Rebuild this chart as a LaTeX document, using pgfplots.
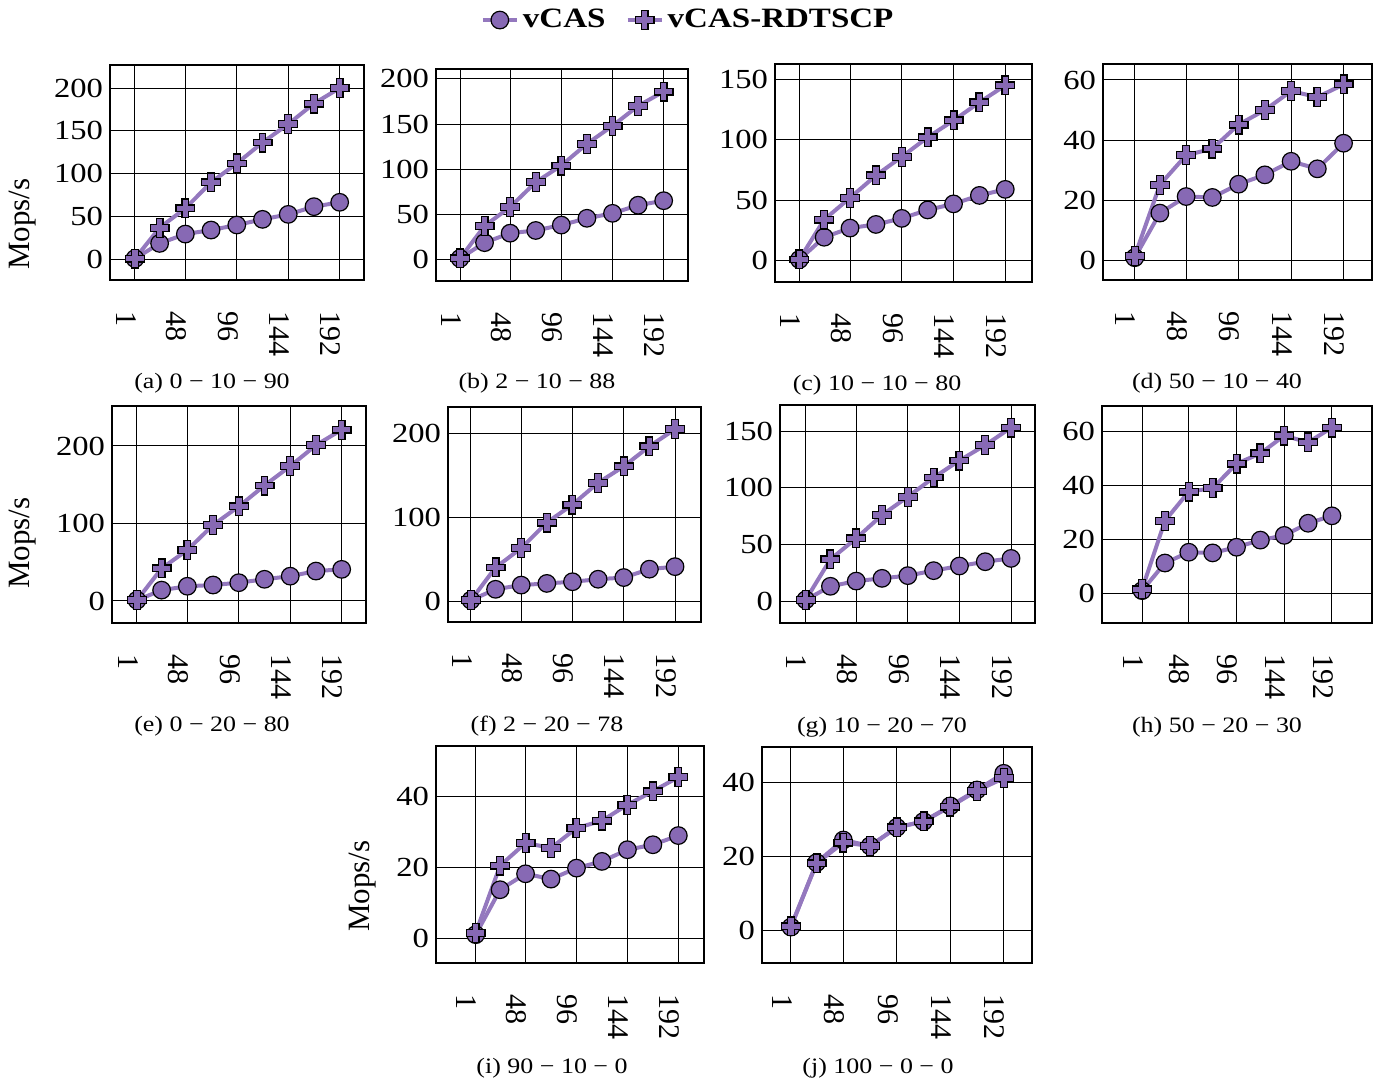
\documentclass[border=0pt]{standalone}
\usepackage{fontspec}
\setmainfont{Liberation Serif}
\newfontfamily\widefont{Liberation Serif}[FakeStretch=1.18]
\usepackage{pgfplots}
\usepackage{pgfplotstable}
\pgfplotsset{compat=1.18}

\definecolor{lineC}{RGB}{148,120,190}
\definecolor{markC}{RGB}{135,105,180}

\pgfdeclareplotmark{fatplus}{%
  \pgfpathmoveto{\pgfqpoint{-0.36\pgfplotmarksize}{\pgfplotmarksize}}%
  \pgfpathlineto{\pgfqpoint{0.36\pgfplotmarksize}{\pgfplotmarksize}}%
  \pgfpathlineto{\pgfqpoint{0.36\pgfplotmarksize}{0.36\pgfplotmarksize}}%
  \pgfpathlineto{\pgfqpoint{\pgfplotmarksize}{0.36\pgfplotmarksize}}%
  \pgfpathlineto{\pgfqpoint{\pgfplotmarksize}{-0.36\pgfplotmarksize}}%
  \pgfpathlineto{\pgfqpoint{0.36\pgfplotmarksize}{-0.36\pgfplotmarksize}}%
  \pgfpathlineto{\pgfqpoint{0.36\pgfplotmarksize}{-\pgfplotmarksize}}%
  \pgfpathlineto{\pgfqpoint{-0.36\pgfplotmarksize}{-\pgfplotmarksize}}%
  \pgfpathlineto{\pgfqpoint{-0.36\pgfplotmarksize}{-0.36\pgfplotmarksize}}%
  \pgfpathlineto{\pgfqpoint{-\pgfplotmarksize}{-0.36\pgfplotmarksize}}%
  \pgfpathlineto{\pgfqpoint{-\pgfplotmarksize}{0.36\pgfplotmarksize}}%
  \pgfpathlineto{\pgfqpoint{-0.36\pgfplotmarksize}{0.36\pgfplotmarksize}}%
  \pgfpathclose
  \pgfusepathqfillstroke
}

\pgfplotstableread{
x v r
1 1 1
24 18.7 37
48 29.6 59.6
72 34.3 90
96 40.2 112
120 46.8 136.5
144 52.6 158
168 61.6 182
192 66.7 200
}\ta
\pgfplotstableread{
x v r
1 1 1
24 18.5 37
48 29 58
72 32 85.5
96 38 104
120 45.5 128
144 51 148
168 60 170
192 65 186
}\tb
\pgfplotstableread{
x v r
1 1 1
24 19.4 34
48 27 52
72 30 70.5
96 35 86
120 42 102
144 47 116
168 54 131
192 59 145
}\tc
\pgfplotstableread{
x v r
1 1 1.5
24 15.8 25.2
48 21.3 35
72 21 37.2
96 25.4 45.2
120 28.5 50
144 33 56.3
168 30.5 54.3
192 39 58.5
}\td
\pgfplotstableread{
x v r
1 1 1
24 14 42
48 19 65.7
72 20.6 98
96 23.6 122
120 28 149
144 32 174
168 38.6 201
192 40.8 221
}\te
\pgfplotstableread{
x v r
1 1 1
24 14 40
48 19 63
72 21 93.6
96 23 115
120 26 141
144 28 160.6
168 38 184.5
192 41 205
}\tf
\pgfplotstableread{
x v r
1 1 1
24 13 36.8
48 17.6 55.3
72 20 75.9
96 22.4 92
120 26.8 109
144 30.9 124
168 34.7 137.6
192 37.6 153
}\tg
\pgfplotstableread{
x v r
1 1 1.5
24 11.25 26.9
48 15.25 37.75
72 15 39
96 17.1 48.1
120 19.75 51.9
144 21.5 58.5
168 26 56
192 28.75 61.5
}\th
\pgfplotstableread{
x v r
1 1 1.5
24 13.7 20.5
48 18.2 26.9
72 16.7 25.5
96 19.8 31.1
120 21.7 33.2
144 25 37.7
168 26.4 41.5
192 29 45.5
}\ti
\pgfplotstableread{
x v r
1 1 1.2
24 18.4 18.2
48 24.5 23.8
72 22.9 22.9
96 27.9 27.9
120 29.5 29.5
144 33.7 33.5
168 38 37.8
192 42.5 41.2
}\tj

\pgfplotsset{
  panel/.style={
    anchor=south west,
    scale only axis,
    axis line style={line width=1.1pt},
    grid=major,
    major grid style={black, line width=0.5pt},
    major tick length=0pt,
    xtick={1,48,96,144,192},
    /pgf/number format/assume math mode=true,
    yticklabel style={font=\widefont\fontsize{13.8}{14}\selectfont},
    xticklabel style={font=\fontsize{15}{16}\selectfont, xshift=-4.5pt, yshift=-12pt, rotate=-90, anchor=west},
  },
  vcas/.style={color=lineC, line width=2pt, mark=*, mark size=4.4pt,
    mark options={fill=markC, draw=black, line width=0.6pt}},
  rdt/.style={color=lineC, line width=2pt, mark=fatplus, mark size=4.7pt,
    mark options={fill=markC, draw=black, line width=0.6pt}},
}

\newcommand{\capt}{\widefont\fontsize{11}{12}\selectfont}

\begin{document}
\begin{tikzpicture}
\useasboundingbox (0,0) rectangle (689.5pt,542.5pt);

% (a)
\begin{axis}[panel, at={(55pt,402.5pt)}, width=127pt, height=107.5pt,
  xmin=-22.3, xmax=214.7, ymin=-24, ymax=227, ytick={0,50,100,150,200},
  legend columns=2,
  legend style={at={(2.28,1.209)}, anchor=center, draw=none, fill=none,
    font=\widefont\bfseries\fontsize{14}{15}\selectfont,
    /tikz/every even column/.append style={column sep=8pt}}]
\addplot[vcas] table[x=x,y=v]{\ta};
\addlegendentry{vCAS}
\addplot[rdt] table[x=x,y=r]{\ta};
\addlegendentry{vCAS-RDTSCP}
\end{axis}

% (b)
\begin{axis}[panel, at={(218pt,402pt)}, width=126pt, height=106pt,
  xmin=-21.5, xmax=214.8, ymin=-24, ymax=211, ytick={0,50,100,150,200}]
\addplot[vcas] table[x=x,y=v]{\tb};
\addplot[rdt] table[x=x,y=r]{\tb};
\end{axis}

% (c)
\begin{axis}[panel, at={(387.5pt,401.5pt)}, width=128.5pt, height=109pt,
  xmin=-21.6, xmax=216.8, ymin=-17.6, ymax=162.7, ytick={0,50,100,150}]
\addplot[vcas] table[x=x,y=v]{\tc};
\addplot[rdt] table[x=x,y=r]{\tc};
\end{axis}

% (d)
\begin{axis}[panel, at={(551.5pt,402.5pt)}, width=134.5pt, height=108pt,
  xmin=-28, xmax=218, ymin=-6.4, ymax=65.3, ytick={0,20,40,60}]
\addplot[vcas] table[x=x,y=v]{\td};
\addplot[rdt] table[x=x,y=r]{\td};
\end{axis}

% (e)
\begin{axis}[panel, at={(56pt,231pt)}, width=127pt, height=108.5pt,
  xmin=-22.3, xmax=214.7, ymin=-28.4, ymax=251.6, ytick={0,100,200}]
\addplot[vcas] table[x=x,y=v]{\te};
\addplot[rdt] table[x=x,y=r]{\te};
\end{axis}

% (f)
\begin{axis}[panel, at={(224pt,231.5pt)}, width=126.5pt, height=107.5pt,
  xmin=-20.5, xmax=216.3, ymin=-25, ymax=231.4, ytick={0,100,200}]
\addplot[vcas] table[x=x,y=v]{\tf};
\addplot[rdt] table[x=x,y=r]{\tf};
\end{axis}

% (g)
\begin{axis}[panel, at={(390pt,231pt)}, width=127.5pt, height=109pt,
  xmin=-22.9, xmax=214.3, ymin=-19.4, ymax=173, ytick={0,50,100,150}]
\addplot[vcas] table[x=x,y=v]{\tg};
\addplot[rdt] table[x=x,y=r]{\tg};
\end{axis}

% (h)
\begin{axis}[panel, at={(551pt,231pt)}, width=135pt, height=108.5pt,
  xmin=-39.3, xmax=232.3, ymin=-11, ymax=69.5, ytick={0,20,40,60}]
\addplot[vcas] table[x=x,y=v]{\th};
\addplot[rdt] table[x=x,y=r]{\th};
\end{axis}

% (i)
\begin{axis}[panel, at={(218pt,61pt)}, width=134pt, height=108.5pt,
  xmin=-36.4, xmax=216.2, ymin=-7, ymax=54.3, ytick={0,20,40}]
\addplot[vcas] table[x=x,y=v]{\ti};
\addplot[rdt] table[x=x,y=r]{\ti};
\end{axis}

% (j)
\begin{axis}[panel, at={(381pt,61pt)}, width=135pt, height=108pt,
  xmin=-25, xmax=217.4, ymin=-8.7, ymax=49.6, ytick={0,20,40}]
\addplot[vcas] table[x=x,y=v]{\tj};
\addplot[rdt] table[x=x,y=r]{\tj};
\end{axis}

% y labels
\node[rotate=90, font=\fontsize{15.5}{16}\selectfont] at (11.5pt,430.5pt) {Mops/s};
\node[rotate=90, font=\fontsize{15.5}{16}\selectfont] at (11.5pt,271pt) {Mops/s};
\node[rotate=90, font=\fontsize{15.5}{16}\selectfont] at (181.5pt,99.5pt) {Mops/s};

% captions
\node[font=\capt] at (106pt,351pt) {(a) 0 − 10 − 90};
\node[font=\capt] at (268.5pt,351pt) {(b) 2 − 10 − 88};
\node[font=\capt] at (438.5pt,350pt) {(c) 10 − 10 − 80};
\node[font=\capt] at (608.5pt,351pt) {(d) 50 − 10 − 40};
\node[font=\capt] at (106pt,179.5pt) {(e) 0 − 20 − 80};
\node[font=\capt] at (273.5pt,179.5pt) {(f) 2 − 20 − 78};
\node[font=\capt] at (441pt,179pt) {(g) 10 − 20 − 70};
\node[font=\capt] at (608.5pt,179pt) {(h) 50 − 20 − 30};
\node[font=\capt] at (276pt,8.5pt) {(i) 90 − 10 − 0};
\node[font=\capt] at (439pt,8.5pt) {(j) 100 − 0 − 0};
\end{tikzpicture}
\end{document}
